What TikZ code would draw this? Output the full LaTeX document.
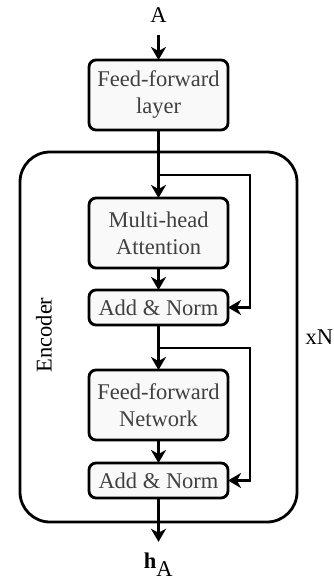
\documentclass[tikz,border=0pt]{standalone}
\usepackage{fontspec}
\setmainfont{Liberation Serif}
\usetikzlibrary{arrows.meta,positioning,calc}

\begin{document}
\begin{tikzpicture}
[x=1pt,y=-1pt,
font=\fontsize{22.5}{27}\selectfont,
edge/.style={-{Stealth[length=13pt,width=15pt,inset=4pt]}, line width=2.8pt},
block/.style={draw=black,line width=2.8pt,rounded corners=7pt,fill=gray!5,text=black!75,minimum width=139pt,align=center,outer sep=0pt,inner sep=0pt},
tall/.style={block,minimum height=70pt},
short/.style={block,minimum height=35pt}]
\useasboundingbox (0,0) rectangle (334,582);
%%
\node (enc) [draw=black,line width=2.8pt,rounded corners=30pt,minimum width=277pt,minimum height=370pt,outer sep=0pt] at (158.5,337) {};
\node (enclabel) [rotate=90] at ($(enc.west)+(24,-2)$) {Encoder};
\node (xn) [right=5pt of enc.east] {xN};
%%
\node (in) at (158.5,15) {A};
\node (ffl) [tall] at (158.5,95) {Feed-forward\\layer};
\draw[edge,shorten <=9pt] (in) -- (ffl);
%%
\node (mha) [tall,below=68pt of ffl] {Multi-head\\Attention};
\node (an1) [short,below=22pt of mha] {Add \& Norm};
\draw[edge] (ffl) -- (mha);
\draw[edge] (mha) -- (an1);
\coordinate (b1) at (158.5,175);
\coordinate (r1) at (250,175);
\draw[edge] (b1) -- (r1) |- (an1.east);
%%
\node (ffn) [tall,below=45pt of an1] {Feed-forward\\Network};
\node (an2) [short,below=23pt of ffn] {Add \& Norm};
\draw[edge] (an1) -- (ffn);
\draw[edge] (ffn) -- (an2);
\coordinate (b2) at (158.5,348);
\coordinate (r2) at (250,348);
\draw[edge] (b2) -- (r2) |- (an2.east);
%%
\node (out) at (158.5,565) {\textbf{h}$_{\textrm{A}}$};
\draw[edge,shorten >=8pt] (an2) -- (out);
%%
\end{tikzpicture}
\end{document}
